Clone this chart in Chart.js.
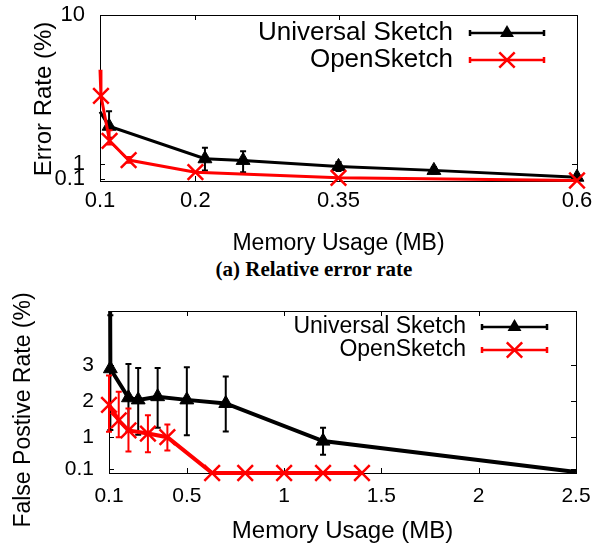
<!DOCTYPE html>
<html><head><meta charset="utf-8">
<script src="https://cdn.jsdelivr.net/npm/chart.js@4"></script>
<style>
html,body{margin:0;padding:0;background:#fff;}
body{width:602px;height:546px;position:relative;overflow:hidden;}
#c1{position:absolute;left:0;top:0;}
#c2{position:absolute;left:0;top:280px;}
#cap{position:absolute;left:0;width:628px;top:257px;text-align:center;font:bold 21px "Liberation Serif";line-height:24px;color:#000;}
</style></head><body>
<canvas id="c1" width="602" height="257"></canvas>
<div id="cap">(a) Relative error rate</div>
<canvas id="c2" width="602" height="266"></canvas>
<script>
// ---------------- data: chart (a) ----------------
const xTicksA = [0.1, 0.2, 0.35, 0.6];
const xTickLabelsA = ['0.1', '0.2', '0.35', '0.6'];
const yTicksA = [0.1, 1, 10];
const yTickLabelsA = ['0.1', '1', '10'];

const memUniversalA = [0.1, 0.1095, 0.21, 0.25, 0.35, 0.45, 0.6];
const rateUniversalA = [4.17, 3.3, 1.34, 1.24, 0.88, 0.64, 0.23];
const lowUniversalA = [null, 2.6, 0.64, 0.53, 0.6, 0.45, 0.15];
const highUniversalA = [null, 4.2, 2.0, 1.79, 1.15, 0.85, 0.3];

const memOpenA = [0.1, 0.101, 0.11, 0.13, 0.2, 0.35, 0.6];
const rateOpenA = [6.7, 5.13, 2.42, 1.26, 0.53, 0.19, 0.03];
const lowOpenA = [null, null, 2.2, 1.1, null, null, null];
const highOpenA = [null, null, 3.05, 1.45, null, null, null];

// ---------------- data: chart (b) ----------------
const xTicksB = [0.1, 0.5, 1, 1.5, 2, 2.5];
const xTickLabelsB = ['0.1', '0.5', '1', '1.5', '2', '2.5'];
const yTicksB = [0.1, 1, 2, 3];
const yTickLabelsB = ['0.1', '1', '2', '3'];

const memUniversalB = [0.105, 0.107, 0.2, 0.25, 0.35, 0.5, 0.7, 1.2, 2.5];
const fpUniversalB = [6, 2.91, 2.1, 2.04, 2.13, 2.04, 1.94, 0.89, 0.03];
const lowUniversalB = [null, 1.2, 1.16, 1.07, 1.26, 1.05, 1.16, 0.51, null];
const highUniversalB = [null, 4.4, 3.04, 2.93, 2.93, 2.95, 2.69, 1.26, null];

const memOpenB = [0.1, 0.15, 0.2, 0.3, 0.4, 0.63, 0.8, 1.0, 1.2, 1.4];
const fpOpenB = [1.9, 1.47, 1.19, 1.1, 1.0, 0, 0, 0, 0, 0];
const lowOpenB = [1.15, 1.0, 0.6, 0.58, 0.63, null, null, null, null, null];
const highOpenB = [2.72, 2.27, 1.8, 1.61, 1.35, null, null, null, null, null];

const seriesNames = ['Universal Sketch', 'OpenSketch'];
// -------------------------------------------------

const FONT = 'Liberation Sans';
const toPts = (xs, ys) => xs.map((x, i) => ({x: x, y: ys[i]}));

function drawMarker(ctx, style, x, y, r, color, lw) {
  ctx.save();
  ctx.strokeStyle = color; ctx.fillStyle = color; ctx.lineWidth = lw;
  ctx.beginPath();
  if (style === 'triangle') {
    ctx.moveTo(x, y - r);
    ctx.lineTo(x + r * 0.87, y + r * 0.5);
    ctx.lineTo(x - r * 0.87, y + r * 0.5);
    ctx.closePath(); ctx.fill();
  } else {
    const d = r * 0.7;
    ctx.moveTo(x - d, y - d); ctx.lineTo(x + d, y + d);
    ctx.moveTo(x + d, y - d); ctx.lineTo(x - d, y + d);
    ctx.stroke();
  }
  ctx.restore();
}

const framePlugin = {
  id: 'frame',
  beforeDatasetsDraw(chart) {
    const {ctx, chartArea: a, scales} = chart;
    ctx.save();
    ctx.strokeStyle = '#000'; ctx.lineWidth = 1;
    ctx.strokeRect(Math.round(a.left) + 0.5, Math.round(a.top) + 0.5, Math.round(a.right - a.left), Math.round(a.bottom - a.top));
    const tl = 5;
    ctx.beginPath();
    scales.x.ticks.forEach(t => {
      const px = Math.round(scales.x.getPixelForValue(t.value)) + 0.5;
      ctx.moveTo(px, a.bottom); ctx.lineTo(px, a.bottom - tl);
      ctx.moveTo(px, a.top); ctx.lineTo(px, a.top + tl);
    });
    scales.y.ticks.forEach(t => {
      const py = Math.round(scales.y.getPixelForValue(t.value)) + 0.5;
      ctx.moveTo(a.left, py); ctx.lineTo(a.left + tl, py);
      ctx.moveTo(a.right, py); ctx.lineTo(a.right - tl, py);
    });
    ctx.stroke();
    ctx.restore();
  }
};

const errorBarPlugin = {
  id: 'errbars',
  afterDatasetDraw(chart, args, opts) {
    const ds = chart.data.datasets[args.index];
    if (!ds.errLow) return;
    const {ctx, scales} = chart;
    ctx.save();
    ctx.strokeStyle = ds.borderColor; ctx.lineWidth = opts.width || 2;
    const cap = opts.cap || 3;
    ds.data.forEach((p, i) => {
      const lo = ds.errLow[i], hi = ds.errHigh[i];
      if (lo == null || hi == null) return;
      const x = scales.x.getPixelForValue(p.x);
      const y1 = scales.y.getPixelForValue(lo), y2 = scales.y.getPixelForValue(hi);
      ctx.beginPath();
      ctx.moveTo(x, y1); ctx.lineTo(x, y2);
      ctx.moveTo(x - cap, y1); ctx.lineTo(x + cap, y1);
      ctx.moveTo(x - cap, y2); ctx.lineTo(x + cap, y2);
      ctx.stroke();
    });
    ctx.restore();
  }
};

const keyPlugin = {
  id: 'gkey',
  afterDraw(chart, args, o) {
    const {ctx} = chart;
    ctx.save();
    ctx.font = o.size + 'px "' + FONT + '"';
    ctx.textAlign = 'right'; ctx.textBaseline = 'middle'; ctx.fillStyle = '#000';
    chart.data.datasets.forEach((ds, i) => {
      const y = o.rows[i];
      ctx.fillText(ds.label, o.textRight, y);
      ctx.strokeStyle = ds.borderColor; ctx.lineWidth = o.lw;
      ctx.beginPath();
      ctx.moveTo(o.x0, y); ctx.lineTo(o.x1, y);
      ctx.moveTo(o.x0, y - 3); ctx.lineTo(o.x0, y + 3);
      ctx.moveTo(o.x1, y - 3); ctx.lineTo(o.x1, y + 3);
      ctx.stroke();
      drawMarker(ctx, ds.pointStyle, (o.x0 + o.x1) / 2, y, ds.keyRadius, ds.borderColor, ds.pointBorderWidth);
    });
    ctx.restore();
  }
};

const yTitlePlugin = {
  id: 'ytitle',
  afterDraw(chart, args, o) {
    const {ctx} = chart;
    ctx.save();
    ctx.translate(o.x, o.y); ctx.rotate(-Math.PI / 2);
    ctx.font = o.size + 'px "' + FONT + '"';
    ctx.textAlign = 'center'; ctx.textBaseline = 'middle'; ctx.fillStyle = '#000';
    ctx.fillText(o.text, 0, 0);
    ctx.restore();
  }
};

function hideable(r) {
  return ctx => (ctx.dataset.hideMarkers || []).includes(ctx.dataIndex) ? 0 : r;
}

function makeChart(id, cfg) {
  return new Chart(document.getElementById(id), {
    type: 'line',
    data: {datasets: cfg.datasets},
    plugins: [framePlugin, errorBarPlugin, keyPlugin, yTitlePlugin],
    options: {
      responsive: false, animation: false, devicePixelRatio: 1,
      layout: {padding: cfg.padding},
      plugins: {
        legend: {display: false}, tooltip: {enabled: false},
        errbars: cfg.err, gkey: cfg.key, ytitle: cfg.ytitle
      },
      scales: {
        x: {
          type: 'linear', min: cfg.xTicks[0], max: cfg.xTicks[cfg.xTicks.length - 1],
          afterBuildTicks: s => { s.ticks = cfg.xTicks.map(v => ({value: v})); },
          ticks: {callback: (v, i) => cfg.xLabels[i], font: {family: FONT, size: cfg.tickSize}, color: '#000', padding: cfg.xPad, maxRotation: 0, autoSkip: false},
          grid: {display: false, drawTicks: false}, border: {display: false},
          title: {display: true, text: 'Memory Usage (MB)', color: '#000', font: {family: FONT, size: cfg.titleSize}, padding: {top: 0, bottom: cfg.titlePad}},
          afterFit: s => { s.height = cfg.xHeight; s.paddingLeft = 0; s.paddingRight = 0; }
        },
        y: {
          type: 'linear', min: cfg.yMin, max: cfg.yMax,
          afterBuildTicks: s => { s.ticks = cfg.yTicks.map(v => ({value: v})); },
          ticks: {callback: (v, i) => cfg.yLabels[i], font: {family: FONT, size: cfg.tickSize}, color: '#000', padding: cfg.yPad, autoSkip: false},
          grid: {display: false, drawTicks: false}, border: {display: false},
          afterFit: s => { s.width = cfg.yWidth; s.paddingTop = 0; s.paddingBottom = 0; }
        }
      }
    }
  });
}

function blackSet(xs, ys, lo, hi, hide, lw, r) {
  return {label: seriesNames[0], data: toPts(xs, ys), errLow: lo, errHigh: hi, hideMarkers: hide,
    borderColor: '#000', backgroundColor: '#000', borderWidth: lw, tension: 0,
    pointStyle: 'triangle', pointRadius: hideable(r), pointBackgroundColor: '#000', pointBorderColor: '#000', pointBorderWidth: 1,
    keyRadius: r, order: 2, clip: {left: 14, top: 0, right: 14, bottom: 14}};
}
function redSet(xs, ys, lo, hi, hide, lw, r) {
  return {label: seriesNames[1], data: toPts(xs, ys), errLow: lo, errHigh: hi, hideMarkers: hide,
    borderColor: '#ff0000', backgroundColor: '#ff0000', borderWidth: lw, tension: 0,
    pointStyle: 'crossRot', pointRadius: hideable(r), pointBorderColor: '#ff0000', pointBorderWidth: 2.5,
    keyRadius: r, order: 1, clip: {left: 14, top: 0, right: 14, bottom: 14}};
}

makeChart('c1', {
  datasets: [
    blackSet(memUniversalA, rateUniversalA, lowUniversalA, highUniversalA, [0], 3, 8),
    redSet(memOpenA, rateOpenA, lowOpenA, highOpenA, [0], 3, 11)
  ],
  padding: {left: 0, right: 25, top: 15, bottom: 0},
  xTicks: xTicksA, xLabels: xTickLabelsA, yTicks: yTicksA, yLabels: yTickLabelsA,
  yMin: 0, yMax: 10, tickSize: 22, titleSize: 23, xPad: 7, yPad: 15, titlePad: 0,
  xHeight: 76, yWidth: 100,
  err: {width: 2, cap: 3},
  key: {size: 26, textRight: 453, x0: 470, x1: 544, rows: [33, 60], lw: 2.5},
  ytitle: {text: 'Error Rate (%)', x: 44, y: 99, size: 24}
});

makeChart('c2', {
  datasets: [
    blackSet(memUniversalB, fpUniversalB, lowUniversalB, highUniversalB, [0, 8], 4, 8),
    redSet(memOpenB, fpOpenB, lowOpenB, highOpenB, [], 4, 11)
  ],
  padding: {left: 0, right: 26, top: 31, bottom: 0},
  xTicks: xTicksB, xLabels: xTickLabelsB, yTicks: yTicksB, yLabels: yTickLabelsB,
  yMin: 0, yMax: 4.52, tickSize: 21, titleSize: 24, xPad: 11, yPad: 15, titlePad: 0,
  xHeight: 73, yWidth: 109,
  err: {width: 2, cap: 3},
  key: {size: 23, textRight: 466, x0: 482, x1: 547, rows: [47, 70], lw: 2.5},
  ytitle: {text: 'False Postive Rate (%)', x: 24, y: 130, size: 23}
});
</script>
</body></html>
